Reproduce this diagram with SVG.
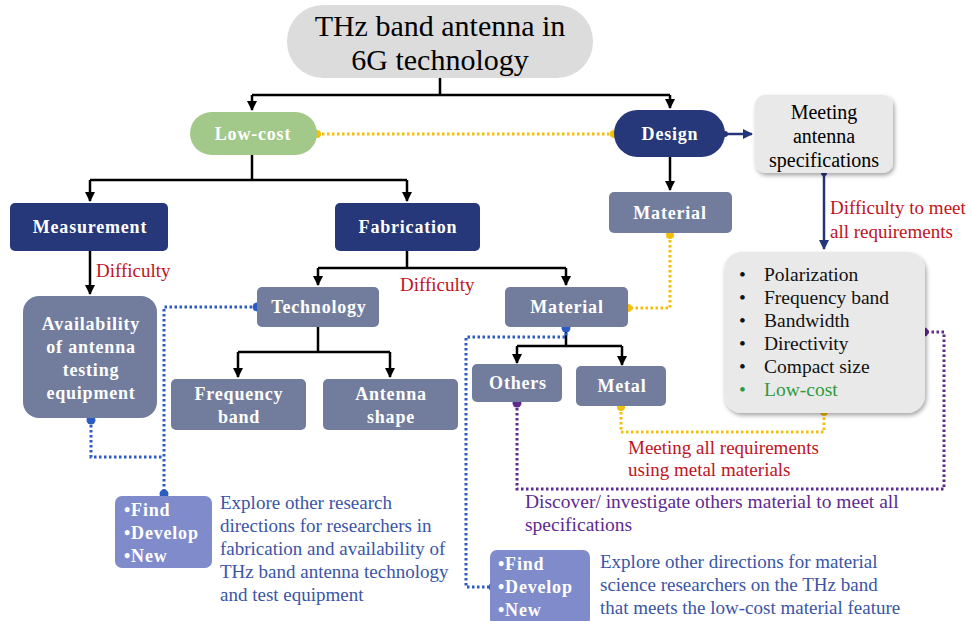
<svg xmlns="http://www.w3.org/2000/svg" width="972" height="621" viewBox="0 0 972 621" font-family="'Liberation Serif','Times New Roman',serif">
<defs>
<marker id="ah" viewBox="0 0 10 10" refX="9" refY="5" markerWidth="4" markerHeight="4" orient="auto"><path d="M0,0 L10,5 L0,10 z" fill="#000"/></marker>
<marker id="ahn" viewBox="0 0 10 10" refX="9" refY="5" markerWidth="4" markerHeight="4" orient="auto"><path d="M0,0 L10,5 L0,10 z" fill="#25357a"/></marker>
<filter id="sh" x="-10%" y="-10%" width="125%" height="125%"><feDropShadow dx="1.5" dy="2.5" stdDeviation="2" flood-color="#000" flood-opacity="0.35"/></filter>
<style>
text{font-family:"Liberation Serif","Times New Roman",serif}
.navy{fill:#26377a}
.slate{fill:#727d9e}
.peri{fill:#808bcb}
.gray{fill:#e9e9e9}
.lbl{fill:#fff;font-weight:bold;font-size:18px;letter-spacing:0.8px;text-anchor:middle}
.fd{fill:#fff;font-weight:bold;font-size:18px;letter-spacing:0.8px}
.red{fill:#c0141d;font-size:19px}
.blk{stroke:#000;stroke-width:2.5;fill:none}
.yd{stroke:#f4bf0a;stroke-width:3;fill:none;stroke-dasharray:2.5 2.5}
.bd{stroke:#2c5bc4;stroke-width:3;fill:none;stroke-dasharray:2.5 2.5}
.pd{stroke:#5c2a91;stroke-width:3;fill:none;stroke-dasharray:2.5 2.5}
.req{font-size:19.5px;fill:#111}
.exp{font-size:19px;fill:#3a55a6}
</style>
</defs>
<rect width="972" height="621" fill="#fff"/>

<g id="connectors">
<path class="blk" d="M440,78 V95 M252,95 H670 M252,95 V110" marker-end="url(#ah)"/>
<path class="blk" d="M670,95 V108" marker-end="url(#ah)"/>
<path class="blk" d="M252,155 V180 M90,180 H407 M90,180 V201" marker-end="url(#ah)"/>
<path class="blk" d="M407,180 V201" marker-end="url(#ah)"/>
<path class="blk" d="M670,157 V190" marker-end="url(#ah)"/>
<path class="blk" d="M90,251 V294" marker-end="url(#ah)"/>
<path class="blk" d="M407,251 V268 M318,268 H566 M318,268 V285" marker-end="url(#ah)"/>
<path class="blk" d="M566,268 V285" marker-end="url(#ah)"/>
<path class="blk" d="M318,327 V352 M238,352 H390 M238,352 V377" marker-end="url(#ah)"/>
<path class="blk" d="M390,352 V377" marker-end="url(#ah)"/>
<path class="blk" d="M566,328 V346 M517,346 H622 M517,346 V363" marker-end="url(#ah)"/>
<path class="blk" d="M622,346 V365" marker-end="url(#ah)"/>
<path d="M725,134 H752" stroke="#25357a" stroke-width="2.5" fill="none" marker-end="url(#ahn)"/>
<circle cx="725" cy="134" r="3" fill="#25357a"/>
<path d="M824,173 V249" stroke="#25357a" stroke-width="2.5" fill="none" marker-end="url(#ahn)"/>
<circle cx="824" cy="173" r="3" fill="#25357a"/>
<path class="yd" d="M317,134 H614"/>
<circle cx="317" cy="134" r="4" fill="#f4bf0a"/>
<circle cx="614" cy="134" r="4" fill="#f4bf0a"/>
<path class="yd" d="M670,235 V308 H628"/>
<circle cx="670" cy="235" r="4" fill="#f4bf0a"/>
<circle cx="628" cy="308" r="4" fill="#f4bf0a"/>
<path class="yd" d="M621,407 V432 H824 V412"/>
<circle cx="621" cy="407" r="4" fill="#f4bf0a"/>
<circle cx="824" cy="412" r="4" fill="#f4bf0a"/>
<path class="bd" d="M91,420 V457 H164"/>
<path class="bd" d="M257,307 H164 V494"/>
<circle cx="91" cy="420" r="4.5" fill="#2c5bc4"/>
<circle cx="257" cy="307" r="4.5" fill="#2c5bc4"/>
<circle cx="164" cy="494" r="4.5" fill="#2c5bc4"/>
<path class="bd" d="M566,328 V337 H466 V587 H493"/>
<circle cx="566" cy="328" r="4.5" fill="#2c5bc4"/>
<circle cx="493" cy="587" r="4.5" fill="#2c5bc4"/>
<path class="pd" d="M517,403 V489 H944 V332 H924"/>
<circle cx="517" cy="403" r="4.5" fill="#5c2a91"/>
<circle cx="924" cy="332" r="4.5" fill="#5c2a91"/>
</g>

<g id="title">
<rect x="287" y="5" width="306" height="73" rx="36" fill="#dcdcdc"/>
<text x="440" y="36" font-size="30" text-anchor="middle">THz band antenna in</text>
<text x="440" y="70" font-size="30" text-anchor="middle">6G technology</text>
</g>

<g id="lowcost">
<rect x="190" y="112" width="127" height="43" rx="21.5" fill="#a3c98a"/>
<text class="lbl" x="253" y="140">Low-cost</text>
</g>

<g id="design">
<rect x="614" y="110" width="111" height="47" rx="23.5" class="navy"/>
<text class="lbl" x="670" y="140">Design</text>
</g>

<g id="meeting">
<rect x="755" y="95" width="138" height="78" rx="10" class="gray" filter="url(#sh)"/>
<text x="824" y="119" font-size="20" text-anchor="middle">Meeting</text>
<text x="824" y="143" font-size="20" text-anchor="middle">antenna</text>
<text x="824" y="167" font-size="20" text-anchor="middle">specifications</text>
</g>

<g id="difficulty-req">
<text class="red" x="830" y="214">Difficulty to meet</text>
<text class="red" x="830" y="238">all requirements</text>
</g>

<g id="requirements">
<rect x="724" y="252" width="201" height="161" rx="18" class="gray" filter="url(#sh)"/>
<g class="req">
<text x="739" y="281">•</text><text x="764" y="281">Polarization</text>
<text x="739" y="304">•</text><text x="764" y="304">Frequency band</text>
<text x="739" y="327">•</text><text x="764" y="327">Bandwidth</text>
<text x="739" y="350">•</text><text x="764" y="350">Directivity</text>
<text x="739" y="373">•</text><text x="764" y="373">Compact size</text>
<text x="739" y="396" fill="#2e9a3e">•</text><text x="764" y="396" fill="#2e9a3e">Low-cost</text>
</g>
</g>

<g id="material-design">
<rect x="609" y="192" width="123" height="41" rx="5" class="slate"/>
<text class="lbl" x="670" y="219">Material</text>
</g>

<g id="measurement">
<rect x="10" y="203" width="158" height="48" rx="5" class="navy"/>
<text class="lbl" x="90" y="233">Measurement</text>
</g>

<g id="fabrication">
<rect x="335" y="203" width="145" height="48" rx="5" class="navy"/>
<text class="lbl" x="408" y="233">Fabrication</text>
</g>

<text class="red" x="96" y="277">Difficulty</text>
<text class="red" x="400" y="291">Difficulty</text>

<g id="availability">
<rect x="23" y="296" width="134" height="122" rx="16" class="slate"/>
<text class="lbl" x="91" y="330">Availability</text>
<text class="lbl" x="91" y="353">of antenna</text>
<text class="lbl" x="91" y="376">testing</text>
<text class="lbl" x="91" y="399">equipment</text>
</g>

<g id="technology">
<rect x="257" y="287" width="122" height="40" rx="5" class="slate"/>
<text class="lbl" x="319" y="313">Technology</text>
</g>

<g id="frequency">
<rect x="171" y="379" width="135" height="51" rx="5" class="slate"/>
<text class="lbl" x="239" y="400">Frequency</text>
<text class="lbl" x="239" y="423">band</text>
</g>

<g id="shape">
<rect x="323" y="379" width="135" height="51" rx="5" class="slate"/>
<text class="lbl" x="391" y="400">Antenna</text>
<text class="lbl" x="391" y="423">shape</text>
</g>

<g id="material-fab">
<rect x="505" y="287" width="123" height="40" rx="5" class="slate"/>
<text class="lbl" x="567" y="313">Material</text>
</g>

<g id="others">
<rect x="472" y="364" width="90" height="38" rx="5" class="slate"/>
<text class="lbl" x="518" y="389">Others</text>
</g>

<g id="metal">
<rect x="576" y="366" width="90" height="40" rx="5" class="slate"/>
<text class="lbl" x="622" y="392">Metal</text>
</g>

<g id="metal-note">
<text class="red" x="628" y="454" font-size="20.5">Meeting all requirements</text>
<text class="red" x="628" y="476" font-size="20.5">using metal materials</text>
</g>

<g id="others-note" fill="#5c2a91" font-size="19.5">
<text x="525" y="508">Discover/ investigate others material to meet all</text>
<text x="525" y="531">specifications</text>
</g>

<g id="find1">
<rect x="115" y="496" width="97" height="72" rx="7" class="peri"/>
<text class="fd" x="124" y="516">•Find</text>
<text class="fd" x="124" y="539">•Develop</text>
<text class="fd" x="124" y="562">•New</text>
</g>
<g id="explore1">
<text class="exp" x="220" y="509">Explore other research</text>
<text class="exp" x="220" y="532">directions for researchers in</text>
<text class="exp" x="220" y="555">fabrication and availability of</text>
<text class="exp" x="220" y="578">THz band antenna technology</text>
<text class="exp" x="220" y="601">and test equipment</text>
</g>

<g id="find2">
<rect x="490" y="550" width="100" height="76" rx="7" class="peri"/>
<text class="fd" x="498" y="570">•Find</text>
<text class="fd" x="498" y="593">•Develop</text>
<text class="fd" x="498" y="616">•New</text>
</g>
<g id="explore2">
<text class="exp" x="600" y="568">Explore other directions for material</text>
<text class="exp" x="600" y="591">science researchers on the THz band</text>
<text class="exp" x="600" y="614">that meets the low-cost material feature</text>
</g>
</svg>
